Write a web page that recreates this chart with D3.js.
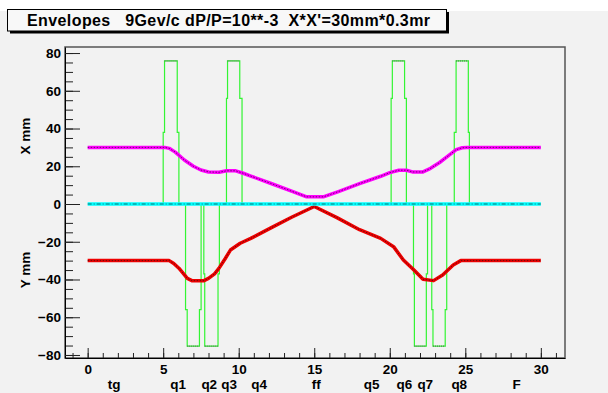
<!DOCTYPE html>
<html>
<head>
<meta charset="utf-8">
<script src="https://cdn.jsdelivr.net/npm/d3@7"></script>
<style>
  body { margin: 0; background: #fff; }
  svg text { font-family: "Liberation Sans", Arial, sans-serif; font-weight: bold; }
</style>
</head>
<body>
<div id="chart"></div>
<script>
// X envelope (magenta), positions in m along the line, value in mm
const xEnvS = [0, 5.1, 5.4, 5.8, 6.4, 7.0, 7.5, 8.0, 8.7, 9.2, 9.8, 10.3, 10.8, 12.1, 13.5, 14.5, 15.6, 16.6, 18.0, 19.4, 20.0, 20.6, 21.1, 21.5, 22.2, 22.7, 23.3, 23.8, 24.4, 24.8, 25.1, 30];
const xEnvV = [30, 30, 29.5, 27.5, 23.3, 20, 18, 17, 16.8, 17.6, 17.6, 16.3, 14.8, 11.0, 6.8, 3.8, 3.8, 6.6, 10.8, 14.7, 16.6, 17.9, 17.9, 17.0, 17.0, 18.9, 22.0, 25.1, 28.8, 29.8, 30, 30];

// Y envelope (red), drawn negative
const yEnvS = [0, 5.4, 5.7, 6.04, 6.6, 6.9, 7.7, 8.0, 8.4, 8.7, 9.1, 9.45, 10.1, 10.8, 12.1, 13.5, 15.0, 16.5, 18.0, 19.4, 20.25, 20.9, 21.6, 22.2, 22.9, 23.5, 24.2, 24.7, 30];
const yEnvV = [-30, -30, -31.5, -34, -39.4, -40.6, -40.6, -39.4, -37, -34, -29, -24.4, -20.8, -18.2, -12.8, -7, -1.3, -7.2, -13.6, -18.2, -22.6, -29.7, -35, -39.9, -40.6, -37.6, -32.3, -30, -30];

// axis line (cyan)
const axisS = [0, 30];
const axisV = [0, 0];

// quadrupole apertures: outer edges, inner edges, step height, full height
const quadOuterL = [5.0, 9.19, 20.09, 24.27, 6.48, 7.69, 21.57, 22.78];
const quadOuterR = [6.04, 10.22, 21.1, 25.27, 7.51, 8.72, 22.5, 23.77];
const quadInnerL = [5.09, 9.26, 20.17, 24.39, 6.59, 7.75, 21.63, 22.86];
const quadInnerR = [5.93, 10.07, 20.98, 25.2, 7.4, 8.63, 22.42, 23.67];
const quadStep = [38, 56, 56, 38, -56, -37, -37, -56];
const quadTop = [75.8, 75.8, 75.8, 75.8, -75.3, -75.3, -75.3, -75.3];

// element names under the axis
const elemNames = ["tg", "q1", "q2", "q3", "q4", "ff", "q5", "q6", "q7", "q8", "F"];
const elemPos = [1.75, 5.99, 8.05, 9.37, 11.35, 15.13, 18.8, 20.96, 22.35, 24.6, 28.4];

const titleText = "Envelopes   9Gev/c dP/P=10**-3  X*X'=30mm*0.3mr";

const W = 608, H = 393;
const svg = d3.select("#chart").append("svg")
  .attr("width", W).attr("height", H);

// canvas background
svg.append("rect").attr("x", 0).attr("y", 11).attr("width", W).attr("height", H - 11).attr("fill", "#f2f2f2");

const plot = {left: 65, right: 565, top: 47, bottom: 358};

const x = d3.scaleLinear().domain([-1.5, 31.6]).range([plot.left, plot.right]);
const y = d3.scaleLinear().domain([-81.6, 83.2]).range([plot.bottom, plot.top]);

// frame
svg.append("rect")
  .attr("x", plot.left).attr("y", plot.top)
  .attr("width", plot.right - plot.left).attr("height", plot.bottom - plot.top)
  .attr("fill", "none").attr("stroke", "#555").attr("stroke-width", 1.5);

// X axis (bottom), ticks pointing inward
svg.append("g")
  .attr("transform", `translate(0,${plot.bottom})`)
  .call(d3.axisBottom(x).tickValues(d3.range(-1, 32, 1)).tickSize(-5).tickFormat(""))
  .call(g => g.select(".domain").remove());
const xMaj = svg.append("g")
  .attr("transform", `translate(0,${plot.bottom})`)
  .call(d3.axisBottom(x).tickValues(d3.range(0, 31, 5)).tickSize(-10).tickSizeOuter(0));
xMaj.select(".domain").attr("stroke", "#000");
xMaj.selectAll("text").attr("y", 15.5).attr("dy", 0).attr("font-size", 13.5).attr("fill", "#000");

// Y axis (left), ticks pointing inward
svg.append("g")
  .attr("transform", `translate(${plot.left},0)`)
  .call(d3.axisLeft(y).tickValues(d3.range(-80, 81, 5)).tickSize(-8).tickFormat(""))
  .call(g => g.select(".domain").remove());
const yMaj = svg.append("g")
  .attr("transform", `translate(${plot.left},0)`)
  .call(d3.axisLeft(y).tickValues(d3.range(-80, 81, 20)).tickSize(-15).tickSizeOuter(0));
yMaj.select(".domain").attr("stroke", "#000");
yMaj.selectAll("text").attr("x", -4).attr("font-size", 13.5).attr("fill", "#000");
svg.selectAll(".tick line").attr("stroke", "#222");

// element names
svg.selectAll(".elem")
  .data(elemNames)
  .enter().append("text")
  .attr("class", "elem")
  .attr("x", (d, i) => x(elemPos[i]))
  .attr("y", 388.5)
  .attr("text-anchor", "middle")
  .attr("font-size", 13.5)
  .text(d => d);

// axis titles
svg.append("text")
  .attr("transform", `translate(30,${y(36)}) rotate(-90)`)
  .attr("text-anchor", "middle").attr("font-size", 13.5)
  .text("X mm");
svg.append("text")
  .attr("transform", `translate(30,${y(-35)}) rotate(-90)`)
  .attr("text-anchor", "middle").attr("font-size", 13.5)
  .text("Y  mm");

// quadrupoles
const quads = quadOuterL.map((d, i) => ({
  oL: d, oR: quadOuterR[i], iL: quadInnerL[i], iR: quadInnerR[i], st: quadStep[i], top: quadTop[i]
}));
const quadLine = d3.line().x(p => x(p[0])).y(p => y(p[1]));
quads.forEach(q => {
  const pts = [[q.oL, 0], [q.oL, q.st], [q.iL, q.st], [q.iL, q.top], [q.iR, q.top], [q.iR, q.st], [q.oR, q.st], [q.oR, 0]];
  svg.append("path")
    .attr("d", quadLine(pts))
    .attr("fill", "none").attr("stroke", "#33f533").attr("stroke-width", 1.2);
  svg.append("path")
    .attr("d", quadLine([[q.iL, q.top], [q.iR, q.top]]))
    .attr("fill", "none").attr("stroke", "#555").attr("stroke-width", 1).attr("stroke-dasharray", "1,1");
});

// envelopes
const env = d3.line().x(d => x(d[0])).y(d => y(d[1]));
function drawEnv(s, v, color, dash) {
  const pts = s.map((d, i) => [d, v[i]]);
  svg.append("path").attr("d", env(pts))
    .attr("fill", "none").attr("stroke", color).attr("stroke-width", 3.5).attr("stroke-linejoin", "round");
  svg.append("path").attr("d", env(pts))
    .attr("fill", "none").attr("stroke", "#111").attr("stroke-width", 0.8)
    .attr("stroke-opacity", 0.75).attr("stroke-dasharray", dash);
}
drawEnv(xEnvS, xEnvV, "#ff00ff", "1.5,1.5");
drawEnv(yEnvS, yEnvV, "#ee0000", "1.5,1.5");
drawEnv(axisS, axisV, "#00ffff", "4,2,1,2");

// title box with shadow
svg.append("rect").attr("x", 10).attr("y", 12).attr("width", 439).attr("height", 21.5).attr("fill", "#000");
svg.append("rect").attr("x", 7.5).attr("y", 9.5).attr("width", 439).attr("height", 21.5)
  .attr("fill", "#f8f8f8").attr("stroke", "#000").attr("stroke-width", 1);
svg.append("text")
  .attr("x", 27).attr("y", 25.5)
  .attr("font-size", 16)
  .attr("textLength", 403)
  .attr("lengthAdjust", "spacing")
  .style("white-space", "pre")
  .text(titleText);
</script>
</body>
</html>
